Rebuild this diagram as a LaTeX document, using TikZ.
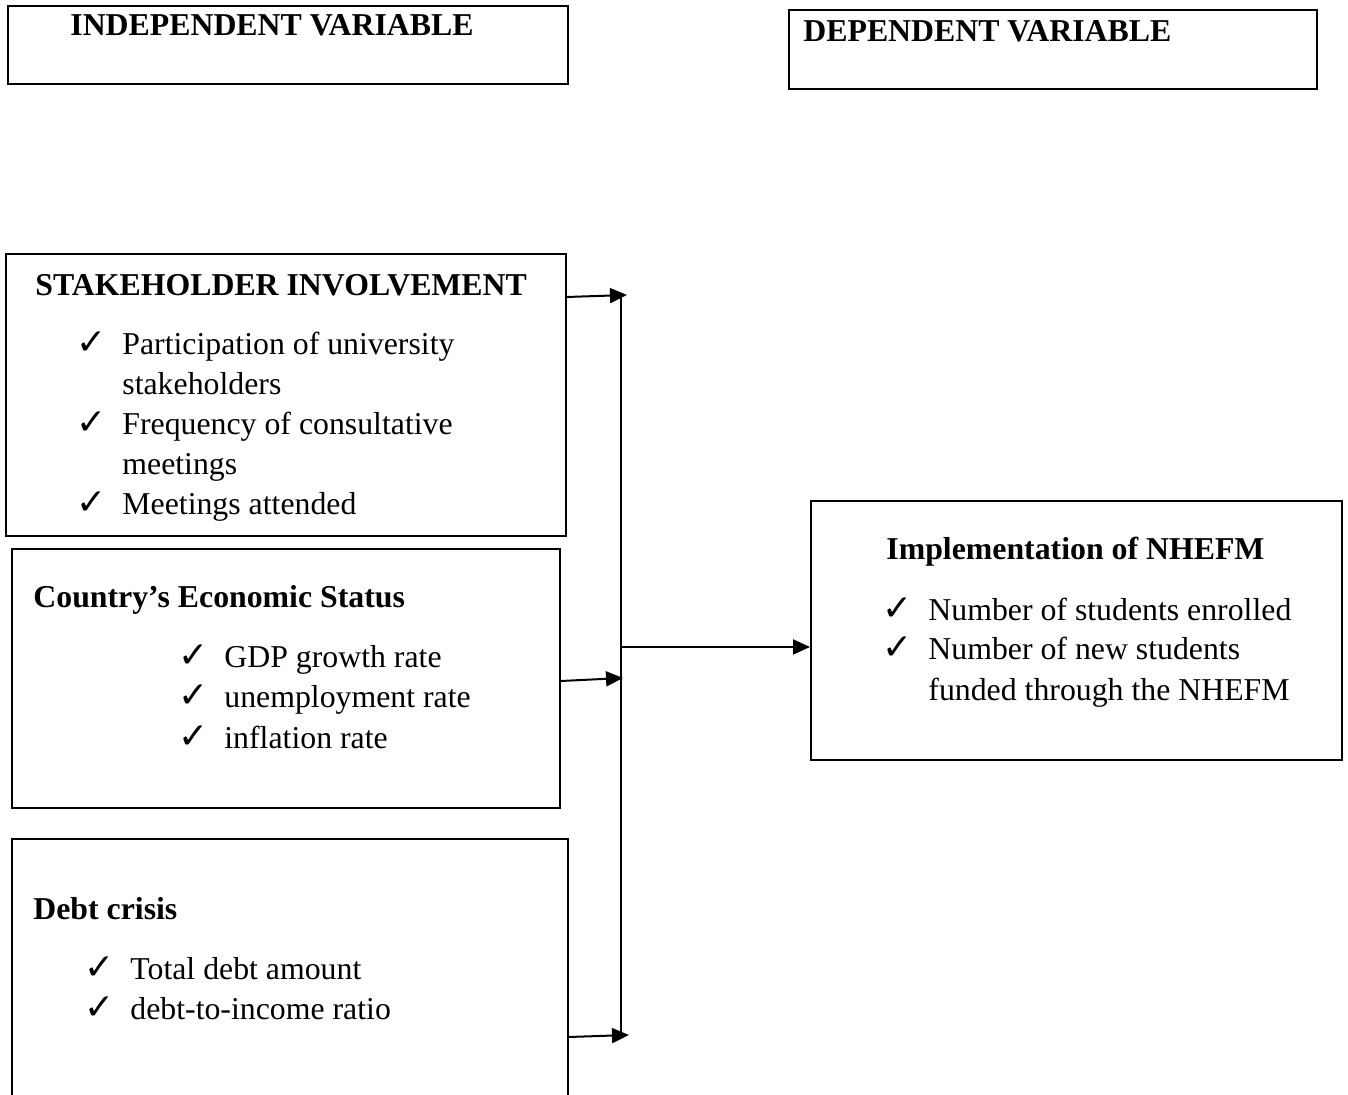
\documentclass[tikz,border=0pt]{standalone}
\usepackage{fontspec}
\setmainfont{Liberation Serif}
\newfontfamily\symfont{DejaVu Sans}
\usetikzlibrary{positioning, arrows.meta}

\newcommand{\chk}{{\symfont\fontsize{18}{18}\selectfont ✓}}
\newenvironment{ticklist}{\begin{tabular}[t]{@{}p{23pt}@{}l@{}}}{\end{tabular}}

\begin{document}
\begin{tikzpicture}[
    x=0.5pt, y=-0.5pt,
    font=\fontsize{15.9}{20}\selectfont,
    varbox/.style={rectangle, draw=black, line width=1pt, anchor=north west, inner sep=0pt},
    label_txt/.style={anchor=base west, inner sep=0pt, font=\fontsize{15.9}{20}\selectfont\bfseries},
    list_txt/.style={anchor=base west, inner sep=0pt},
    arrow/.style={draw=black, line width=1pt, -{Triangle[length=8.5pt, width=7.5pt]}}
]
\useasboundingbox (0,0) rectangle (1348,1095);
\clip (0,0) rectangle (1348,1095);

% Header boxes
\node[varbox, minimum width=280pt, minimum height=39pt] (indep) at (7,5) {};
\node[label_txt] (indep_txt) at (70,36) {INDEPENDENT VARIABLE};
\node[varbox, minimum width=264pt, minimum height=39.5pt] (dep) at (788,9) {};
\node[label_txt] (dep_txt) at (803,42) {DEPENDENT VARIABLE};

% Stakeholder involvement
\node[varbox, minimum width=280pt, minimum height=141pt] (stake) at (5,253) {};
\node[label_txt] (stake_txt) at (35,296) {STAKEHOLDER INVOLVEMENT};
\node[list_txt] (stake_list) at (76,355) {\begin{ticklist}
    \chk & Participation of university\\
         & stakeholders\\
    \chk & Frequency of consultative\\
         & meetings\\
    \chk & Meetings attended
\end{ticklist}};

% Economic status
\node[varbox, minimum width=274pt, minimum height=129.5pt] (econ) at (11,548) {};
\node[label_txt] (econ_txt) at (33,608) {Country’s Economic Status};
\node[list_txt] (econ_list) at (178,668) {\begin{ticklist}
    \chk & GDP growth rate\\
    \chk & unemployment rate\\
    \chk & inflation rate
\end{ticklist}};

% Debt crisis
\node[varbox, minimum width=278pt, minimum height=135pt] (debt) at (11,838) {};
\node[label_txt] (debt_txt) at (33,919) {Debt crisis};
\node[list_txt] (debt_list) at (84,979) {\begin{ticklist}
    \chk & Total debt amount\\
    \chk & debt-to-income ratio
\end{ticklist}};

% Implementation
\node[varbox, minimum width=265.5pt, minimum height=129.5pt] (impl) at (810,500) {};
\node[label_txt] (impl_txt) at (886,560) {Implementation of NHEFM};
\node[list_txt] (impl_list) at (882,620) {\begin{ticklist}
    \chk & Number of students enrolled\\
    \chk & Number of new students\\
         & funded through the NHEFM
\end{ticklist}};

% Connections
\coordinate (hub_top) at (621,297);
\coordinate (hub_bot) at (621,1035);
\coordinate (hub_s) at (627,295);
\coordinate (hub_e) at (623,678);
\coordinate (hub_d) at (629,1035);
\coordinate (hub_m) at (622,647);
\draw[line width=0.7pt] (hub_top) -- (hub_bot);
\draw[arrow] ([yshift=-22pt]stake.north east) -- (hub_s);
\draw[arrow] ([yshift=-66.5pt]econ.north east) -- (hub_e);
\draw[arrow] ([yshift=-99.5pt]debt.north east) -- (hub_d);
\draw[arrow] (hub_m) -- (impl.west |- hub_m);

\end{tikzpicture}
\end{document}
